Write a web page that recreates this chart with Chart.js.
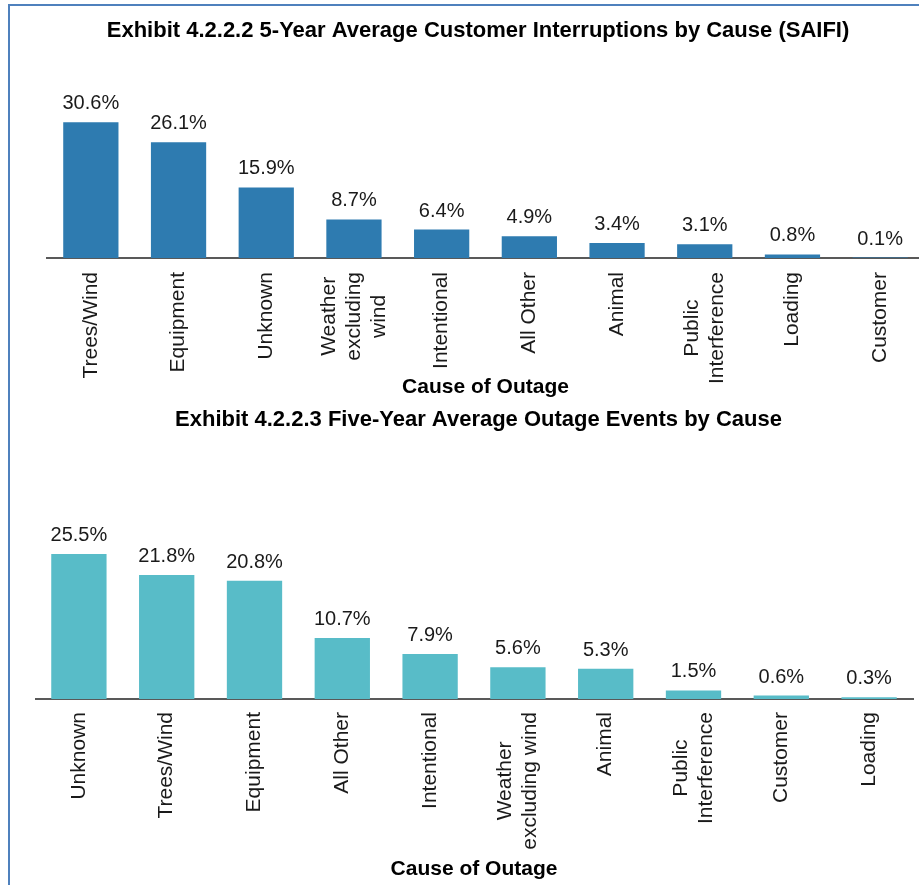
<!DOCTYPE html>
<html lang="en">
<head>
<meta charset="UTF-8">
<title>Outage Causes</title>
<script src="https://cdn.jsdelivr.net/npm/chart.js"></script>
<style>
    html, body { margin: 0; padding: 0; width: 919px; height: 885px; overflow: hidden; background: #fff; }
    .box { position: absolute; }
    .frame-top { position: absolute; left: 8px; top: 4px; width: 911px; height: 2px; background: #4f81bd; }
    .frame-left { position: absolute; left: 8px; top: 4px; width: 2px; height: 881px; background: #4f81bd; }
</style>
</head>
<body>
<div class="box" style="left:32px; top:10px; width:892px; height:390px;"><canvas id="saifiChart"></canvas></div>
<div class="box" style="left:35px; top:400px; width:887px; height:485px;"><canvas id="eventsChart"></canvas></div>
<div class="frame-top"></div>
<div class="frame-left"></div>

<script>
// exhibit 4.2.2.2 - SAIFI share by cause
const saifiCauses = ['Trees/Wind', 'Equipment', 'Unknown', ['Weather', 'excluding', 'wind'], 'Intentional',
    'All Other', 'Animal', ['Public', 'Interference'], 'Loading', 'Customer'];
const saifiShare = [30.6, 26.1, 15.9, 8.7, 6.4, 4.9, 3.4, 3.1, 0.8, 0.1];

// exhibit 4.2.2.3 - outage events share by cause
const eventCauses = ['Unknown', 'Trees/Wind', 'Equipment', 'All Other', 'Intentional',
    ['Weather', 'excluding wind'], 'Animal', ['Public', 'Interference'], 'Customer', 'Loading'];
const eventShare = [25.5, 21.8, 20.8, 10.7, 7.9, 5.6, 5.3, 1.5, 0.6, 0.3];

const FONT = "'Liberation Sans', Arial, sans-serif";
Chart.defaults.font.family = FONT;
Chart.defaults.color = '#1a1a1a';

// percent labels above each bar
const barValueLabels = {
    id: 'barValueLabels',
    afterDatasetsDraw(chart) {
        const ctx = chart.ctx;
        const values = chart.data.datasets[0].data;
        ctx.save();
        ctx.font = '20px ' + FONT;
        ctx.fillStyle = '#1a1a1a';
        ctx.textAlign = 'center';
        ctx.textBaseline = 'alphabetic';
        chart.getDatasetMeta(0).data.forEach((bar, i) => {
            ctx.fillText(values[i].toFixed(1) + '%', bar.x, bar.y - 13);
        });
        ctx.restore();
    }
};

// vertical category labels, multi-line ones centred on each other and on the tick
const centeredTickLabels = {
    id: 'centeredTickLabels',
    afterDraw(chart, args, opts) {
        const scale = chart.scales.x;
        const ctx = chart.ctx;
        const lineH = opts.size * 1.2;
        ctx.save();
        ctx.font = opts.size + 'px ' + FONT;
        ctx.fillStyle = '#1a1a1a';
        ctx.textAlign = 'center';
        ctx.textBaseline = 'middle';
        chart.data.labels.forEach((label, i) => {
            const lines = [].concat(label);
            const widest = Math.max(...lines.map(l => ctx.measureText(l).width));
            ctx.save();
            ctx.translate(scale.getPixelForValue(i), scale.top + opts.padding + widest / 2);
            ctx.rotate(-Math.PI / 2);
            lines.forEach((line, j) => {
                ctx.fillText(line, 0, (j - (lines.length - 1) / 2) * lineH);
            });
            ctx.restore();
        });
        ctx.restore();
    }
};

function makeChart(id, title, labels, values, color, opts) {
    return new Chart(document.getElementById(id), {
        type: 'bar',
        data: {
            labels: labels,
            datasets: [{ data: values, backgroundColor: color, barPercentage: 0.63, categoryPercentage: 1 }]
        },
        options: {
            responsive: true,
            maintainAspectRatio: false,
            animation: false,
            layout: { padding: 0 },
            plugins: {
                legend: { display: false },
                tooltip: { enabled: false },
                title: {
                    display: true,
                    text: title,
                    color: '#000',
                    font: { size: 22, weight: 'bold' },
                    padding: { top: opts.titleTop, bottom: 30 }
                },
                centeredTickLabels: { size: 21, padding: opts.tickPad }
            },
            scales: {
                x: {
                    grid: { display: false, drawTicks: false },
                    border: { display: true, color: '#595959', width: 2 },
                    ticks: { display: false, autoSkip: false },
                    title: { display: true, text: 'Cause of Outage', color: '#000',
                        font: { size: 21, weight: 'bold' }, padding: { top: 0, bottom: opts.axisTitleBottom } },
                    afterFit(scale) { scale.height = opts.xHeight; }
                },
                y: {
                    position: opts.yPos,
                    min: 0,
                    max: 41.4,
                    ticks: { display: false },
                    grid: { display: false, drawTicks: false },
                    border: { display: false },
                    afterFit(scale) { scale.width = opts.yWidth; }
                }
            }
        },
        plugins: [barValueLabels, centeredTickLabels]
    });
}

makeChart('saifiChart', 'Exhibit 4.2.2.2 5-Year Average Customer Interruptions by Cause (SAIFI)',
    saifiCauses, saifiShare, '#2e7bb0',
    { titleTop: 8, tickPad: 14, axisTitleBottom: 0, xHeight: 142, yPos: 'left', yWidth: 15 });

makeChart('eventsChart', 'Exhibit 4.2.2.3 Five-Year Average Outage Events by Cause',
    eventCauses, eventShare, '#58bcc8',
    { titleTop: 7, tickPad: 13, axisTitleBottom: 3, xHeight: 186, yPos: 'right', yWidth: 9 });
</script>
</body>
</html>
